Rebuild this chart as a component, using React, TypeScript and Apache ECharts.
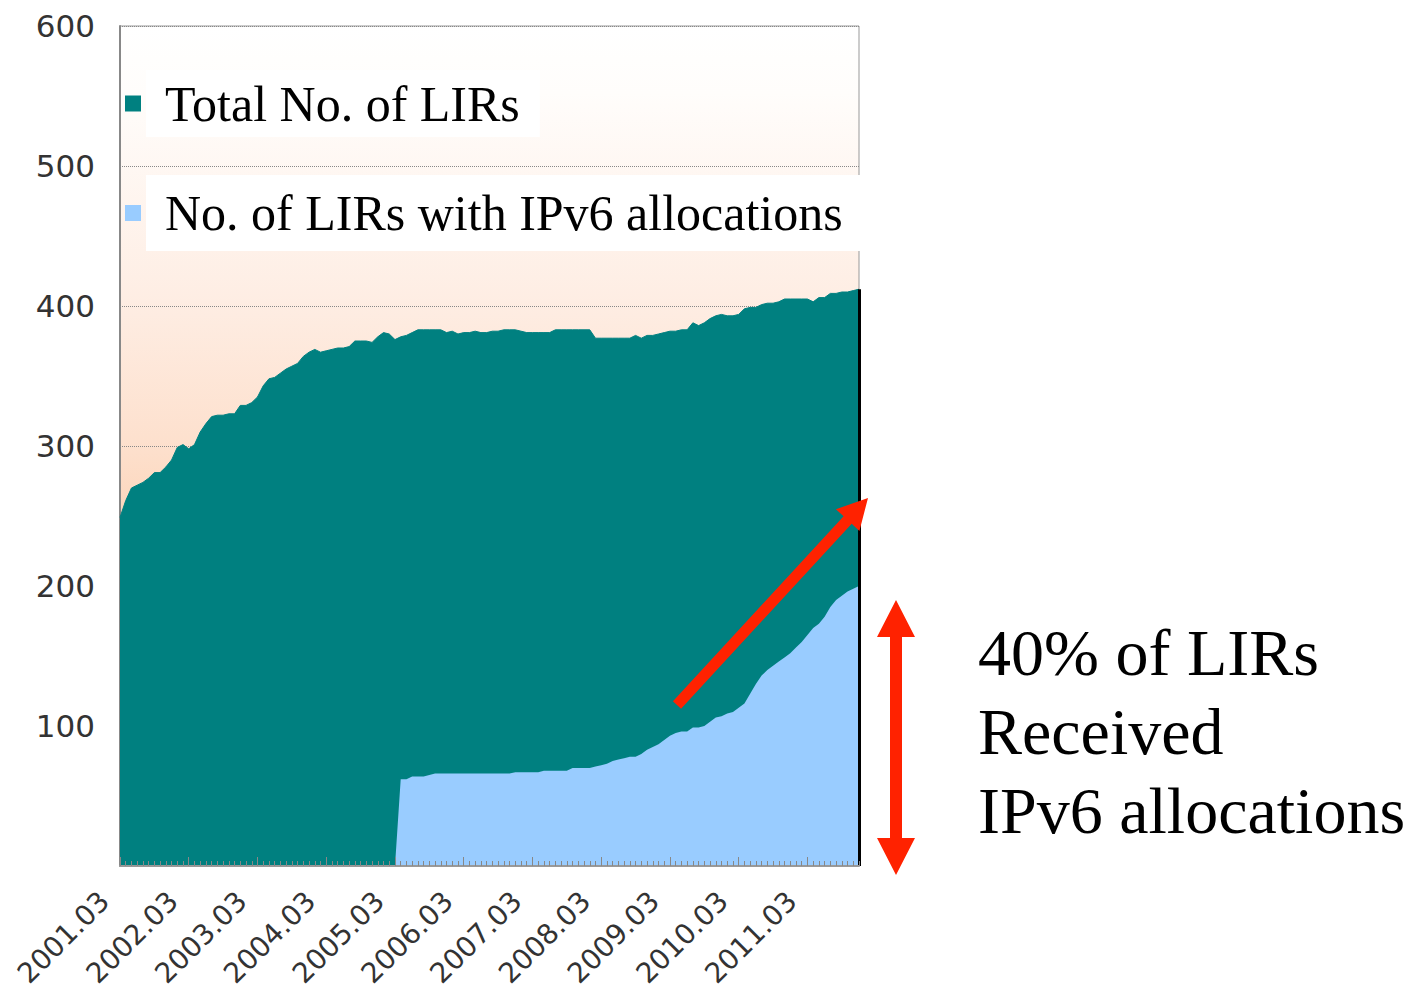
import React, { useEffect, useRef } from "react";
import * as echarts from "echarts";

// Monthly categories 2001.03 .. 2011.12
const START_YEAR = 2001;
const START_MONTH = 3;
const MONTH_COUNT = 130;
const CATEGORIES: string[] = [];
for (let i = 0; i < MONTH_COUNT; i++) {
  const m = START_MONTH - 1 + i;
  const y = START_YEAR + Math.floor(m / 12);
  const mm = (m % 12) + 1;
  CATEGORIES.push(`${y}.${mm < 10 ? "0" + mm : mm}`);
}

const Y_TICKS = [0, 100, 200, 300, 400, 500, 600];

const TOTAL_NAME = "Total No. of LIRs";
const IPV6_NAME = "No. of LIRs with IPv6 allocations";

const TOTAL_LIRS = [
  249, 261, 270, 272, 274, 277, 281, 281, 285, 290,
  299, 301, 298, 301, 310, 316, 321, 322, 322, 323,
  323, 329, 329, 331, 335, 343, 348, 349, 352, 355,
  357, 359, 364, 367, 369, 367, 368, 369, 370, 370,
  371, 375, 375, 375, 374, 378, 381, 380, 376, 378,
  379, 381, 383, 383, 383, 383, 383, 381, 382, 380,
  381, 381, 382, 381, 381, 382, 382, 383, 383, 383,
  382, 381, 381, 381, 381, 381, 383, 383, 383, 383,
  383, 383, 383, 377, 377, 377, 377, 377, 377, 377,
  379, 377, 379, 379, 380, 381, 382, 382, 383, 383,
  388, 386, 388, 391, 393, 394, 393, 393, 394, 398,
  399, 399, 401, 402, 402, 403, 405, 405, 405, 405,
  405, 403, 406, 406, 409, 409, 410, 410, 411, 412,
];

const IPV6_LIRS: (number | string)[] = [
  "-", "-", "-", "-", "-", "-", "-", "-", "-", "-",
  "-", "-", "-", "-", "-", "-", "-", "-", "-", "-",
  "-", "-", "-", "-", "-", "-", "-", "-", "-", "-",
  "-", "-", "-", "-", "-", "-", "-", "-", "-", "-",
  "-", "-", "-", "-", "-", "-", "-", "-", 0, 62,
  62, 64, 64, 64, 65, 66, 66, 66, 66, 66,
  66, 66, 66, 66, 66, 66, 66, 66, 66, 67,
  67, 67, 67, 67, 68, 68, 68, 68, 68, 70,
  70, 70, 70, 71, 72, 73, 75, 76, 77, 78,
  78, 80, 83, 85, 87, 90, 93, 95, 96, 96,
  99, 99, 100, 103, 106, 107, 109, 110, 113, 116,
  123, 130, 136, 140, 143, 146, 149, 152, 156, 160,
  165, 170, 173, 178, 185, 190, 193, 196, 198, 200,
];

const NOTE_LINES = ["40% of LIRs", "Received", "IPv6 allocations"];

const TEAL = "#008080";
const LIGHT_BLUE = "#99ccff";
const RED = "#ff2200";

function arrowPolygon(
  x0: number, y0: number, x1: number, y1: number,
  shaftW: number, headLen: number, headW: number, doubleHead: boolean
): number[][] {
  const dx = x1 - x0, dy = y1 - y0;
  const len = Math.sqrt(dx * dx + dy * dy);
  const ux = dx / len, uy = dy / len;
  const nx = -uy, ny = ux;
  const p = (d: number, w: number) => [x0 + ux * d + nx * w, y0 + uy * d + ny * w];
  const pts: number[][] = [];
  if (doubleHead) {
    pts.push(p(0, 0));
    pts.push(p(headLen, headW / 2));
    pts.push(p(headLen, shaftW / 2));
  } else {
    pts.push(p(0, shaftW / 2));
  }
  pts.push(p(len - headLen, shaftW / 2));
  pts.push(p(len - headLen, headW / 2));
  pts.push(p(len, 0));
  pts.push(p(len - headLen, -headW / 2));
  pts.push(p(len - headLen, -shaftW / 2));
  if (doubleHead) {
    pts.push(p(headLen, -shaftW / 2));
    pts.push(p(headLen, -headW / 2));
  } else {
    pts.push(p(0, -shaftW / 2));
  }
  return pts;
}

export default function App() {
  const ref = useRef<HTMLDivElement>(null);

  useEffect(() => {
    if (!ref.current) return;
    const chart = echarts.init(ref.current, undefined, { renderer: "svg" });
    const axisFont = "DejaVu Sans";
    const serif = "Liberation Serif";
    const last = CATEGORIES.length - 1;

    const option: any = {
      animation: false,
      backgroundColor: "#ffffff",
      grid: {
        left: 120,
        top: 26,
        width: 739,
        height: 840,
        containLabel: false,
        outerBoundsMode: "none",
        show: true,
        borderColor: "#999999",
        borderWidth: 1,
        backgroundColor: new echarts.graphic.LinearGradient(0, 0, 0, 1, [
          { offset: 0, color: "#ffffff" },
          { offset: 0.08, color: "#fffdfb" },
          { offset: 0.33, color: "#feede3" },
          { offset: 0.5, color: "#fde0cd" },
          { offset: 0.6, color: "#fcd4b8" },
          { offset: 1, color: "#fbc098" },
        ]),
      },
      legend: [
        {
          data: [TOTAL_NAME],
          left: 120,
          top: 65,
          icon: "rect",
          itemWidth: 16,
          itemHeight: 16,
          selectedMode: false,
          textStyle: {
            fontFamily: serif,
            fontSize: 50,
            color: "#000",
            lineHeight: 54,
            backgroundColor: "#ffffff",
            padding: [7, 20, 6, 19],
          },
        },
        {
          data: [IPV6_NAME],
          left: 120,
          top: 170,
          icon: "rect",
          itemWidth: 16,
          itemHeight: 16,
          selectedMode: false,
          textStyle: {
            fontFamily: serif,
            fontSize: 50,
            color: "#000",
            lineHeight: 54,
            backgroundColor: "#ffffff",
            padding: [12, 18, 10, 19],
          },
        },
      ],
      xAxis: [
        {
          type: "category",
          data: CATEGORIES,
          boundaryGap: false,
          position: "bottom",
          z: 10,
          axisLine: { show: true, lineStyle: { color: "#999999", width: 2 } },
          axisTick: {
            show: true,
            inside: true,
            interval: 0,
            length: 5,
            lineStyle: { color: "#888888", width: 1 },
          },
          axisLabel: {
            interval: 11,
            rotate: 45,
            margin: 15,
            padding: [0, 22, 0, 0],
            fontFamily: axisFont,
            fontSize: 28,
            color: "#333333",
          },
          splitLine: { show: false },
        },
        {
          type: "category",
          data: CATEGORIES,
          boundaryGap: false,
          position: "bottom",
          z: 10,
          axisLine: { show: false },
          axisTick: {
            show: true,
            inside: true,
            interval: 11,
            length: 9,
            lineStyle: { color: "#888888", width: 1 },
          },
          axisLabel: { show: false },
          splitLine: { show: false },
        },
      ],
      yAxis: {
        type: "value",
        min: Y_TICKS[0],
        max: Y_TICKS[Y_TICKS.length - 1],
        interval: 100,
        axisLine: { show: true, lineStyle: { color: "#888888", width: 2 } },
        axisTick: { show: false },
        axisLabel: {
          margin: 25,
          fontFamily: axisFont,
          fontSize: 31,
          color: "#333333",
          padding: [6, 0, 0, 0],
          formatter: (v: number) => (v === 0 ? "" : String(v)),
        },
        splitLine: {
          show: true,
          lineStyle: { color: "#888888", type: "dotted", width: 1 },
        },
      },
      series: [
        {
          name: TOTAL_NAME,
          type: "line",
          data: TOTAL_LIRS,
          color: TEAL,
          symbol: "none",
          z: 2,
          lineStyle: { color: TEAL, width: 1 },
          areaStyle: { color: TEAL, opacity: 1 },
        },
        {
          name: IPV6_NAME,
          type: "line",
          data: IPV6_LIRS,
          color: LIGHT_BLUE,
          symbol: "none",
          z: 3,
          lineStyle: { color: LIGHT_BLUE, width: 0 },
          areaStyle: { color: LIGHT_BLUE, opacity: 1 },
          markLine: {
            silent: true,
            symbol: ["none", "none"],
            label: { show: false },
            lineStyle: { color: "#000000", width: 3, type: "solid" },
            data: [
              [
                { coord: [CATEGORIES[last], 0] },
                { coord: [CATEGORIES[last], TOTAL_LIRS[last]] },
              ],
            ],
          },
        },
      ],
      graphic: [
        {
          type: "polygon",
          z: 100,
          shape: { points: arrowPolygon(677, 705, 868, 498, 11, 30, 32, false) },
          style: { fill: RED },
        },
        {
          type: "polygon",
          z: 100,
          shape: { points: arrowPolygon(896, 600, 896, 875, 12, 37, 38, true) },
          style: { fill: RED },
        },
        ...NOTE_LINES.map((t, i) => ({
          type: "text",
          z: 100,
          x: 978,
          y: 652 + i * 79,
          style: {
            text: t,
            fontFamily: serif,
            fontSize: 66,
            fill: "#000000",
            align: "left",
            verticalAlign: "middle",
          },
        })),
      ],
    };

    chart.setOption(option);
    return () => chart.dispose();
  }, []);

  return (
    <div
      ref={ref}
      style={{ position: "fixed", left: 0, top: 0, width: 1411, height: 994 }}
    />
  );
}
